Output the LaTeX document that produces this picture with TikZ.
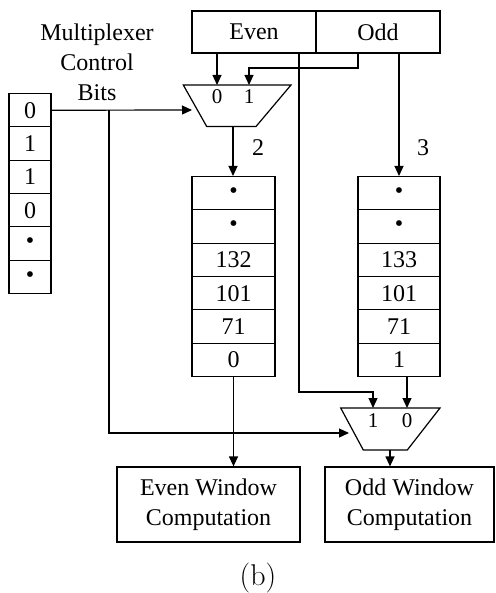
\documentclass[tikz,border=0pt]{standalone}
\usepackage{fontspec}
\newfontfamily\tnr{Liberation Serif}
\usetikzlibrary{arrows.meta}

\begin{document}
\begin{tikzpicture}[x=1pt,y=-1pt,line width=1.2pt,
  txt/.style={font=\tnr\fontsize{24}{30}\selectfont},
  smalltxt/.style={font=\tnr\fontsize{21}{24}\selectfont},
  cell/.style={draw,rectangle,minimum width=#1,minimum height=33.3pt,
    inner sep=0pt,anchor=north,txt},
  wbox/.style={draw,rectangle,minimum width=#1,minimum height=75pt,
    inner sep=0pt,align=center,txt},
  arr/.style={-{Triangle[length=10pt,width=9pt]}}]
\useasboundingbox (0,0) rectangle (495,593);

% source words
\node[draw,minimum width=124pt,minimum height=42pt,inner sep=0pt,txt] (even) at (254,32) {Even};
\node[draw,minimum width=124pt,minimum height=42pt,inner sep=0pt,txt] (odd) at (378,32) {Odd};

% control bit register
\node[txt,align=center] (ctitle) at (97,62) {Multiplexer\\Control\\Bits};
\foreach \v [count=\i] in {0,1,1,0,\textbullet,\textbullet}
  \node[cell=42pt] (cb\i) at (30,{93+33.3*(\i-1)}) {\v};

% even and odd registers
\foreach \v [count=\i] in {\textbullet,\textbullet,132,101,71,0}
  \node[cell=83pt] (er\i) at (233.5,{176+33.3*(\i-1)}) {\v};
\foreach \v [count=\i] in {\textbullet,\textbullet,133,101,71,1}
  \node[cell=82pt] (or\i) at (399,{176+33.3*(\i-1)}) {\v};

% first multiplexer
\coordinate (m1a) at (183.3,85);
\coordinate (m1b) at (291,85);
\coordinate (m1c) at (256,126.5);
\coordinate (m1d) at (206.7,126.5);
\draw (m1a) -- (m1b) -- (m1c) -- (m1d) -- cycle;
\coordinate (m1i0) at (217,85);
\coordinate (m1i1) at (249,85);
\coordinate (m1o) at (233,126.5);
\coordinate (m1s) at (192,110);
\node[smalltxt,anchor=base] (m1l0) at (217,104) {0};
\node[smalltxt,anchor=base] (m1l1) at (249,104) {1};

% second multiplexer
\coordinate (m2a) at (340.7,408);
\coordinate (m2b) at (440,408);
\coordinate (m2c) at (407.3,450);
\coordinate (m2d) at (363.3,450);
\draw (m2a) -- (m2b) -- (m2c) -- (m2d) -- cycle;
\coordinate (m2i1) at (373,408);
\coordinate (m2i0) at (407,408);
\coordinate (m2o) at (390,450);
\coordinate (m2s) at (349,433);
\node[smalltxt,anchor=base] (m2l1) at (373,427) {1};
\node[smalltxt,anchor=base] (m2l0) at (407,427) {0};

% window computation blocks
\node[wbox=183pt] (evenwin) at (208.5,504.5) {Even Window\\Computation};
\node[wbox=169pt] (oddwin) at (409.5,504.5) {Odd Window\\Computation};

% connections
\coordinate (oddbend) at (358,68);
\coordinate (evtap) at (299,392);
\coordinate (cbsplit) at (109,433);
\draw[arr] (even.south -| m1i0) -- (m1i0);
\draw[arr] (odd.south -| oddbend) -- (oddbend) -| (m1i1);
\draw[arr] (m1o) -- (m1o |- er1.north);
\draw[arr] (odd.south -| or1.north) -- (or1.north);
\draw[arr] (even.south -| evtap) -- (evtap) -| (m2i1);
\draw[arr] (or6.south -| m2i0) -- (m2i0);
\draw[arr] (m2o) -- (m2o |- oddwin.north);
\draw[arr] (er6.south) -- (er6.south |- evenwin.north);
\draw[arr] (cb1.east) -- (m1s);
\draw[arr] (cb1.east -| cbsplit) -- (cbsplit) -- (m2s);

% output widths
\node[txt] (w2) at (258,148) {2};
\node[txt] (w3) at (423,148) {3};

% caption
\node[font=\fontsize{30}{34}\selectfont] (cap) at (258,578) {(b)};
\end{tikzpicture}
\end{document}
